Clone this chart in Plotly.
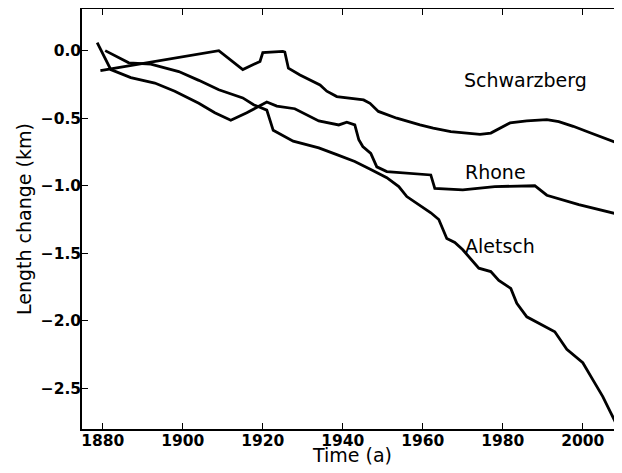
import plotly.graph_objects as go

# Schwarzberg glacier
schwarzberg_years = [1879.4, 1909, 1915, 1919.3, 1920, 1925, 1925.5, 1926.4, 1929.3, 1934.3, 1936,
                     1938.5, 1945.2, 1946.8, 1948.9, 1953.5, 1959.3, 1962.6, 1967, 1971, 1974.3,
                     1977, 1981.8, 1986, 1991, 1994, 1997.6, 2002, 2008.7]
schwarzberg_vals = [-0.148, 0.0, -0.14, -0.08, -0.015, -0.005, -0.01, -0.13, -0.18, -0.254, -0.30,
                    -0.34, -0.365, -0.39, -0.45, -0.50, -0.55, -0.574, -0.60, -0.61, -0.62,
                    -0.61, -0.535, -0.52, -0.51, -0.525, -0.56, -0.61, -0.685]

# Rhone glacier
rhone_years = [1878.6, 1882, 1887, 1893, 1898, 1904, 1908, 1912, 1916, 1921, 1923.5, 1928, 1934,
               1939, 1941, 1943, 1944, 1945, 1947, 1948.5, 1951, 1962, 1963, 1970, 1978, 1988,
               1991, 1999, 2008.7]
rhone_vals = [0.06, -0.14, -0.20, -0.24, -0.30, -0.39, -0.46, -0.515, -0.46, -0.38, -0.41, -0.43,
              -0.52, -0.55, -0.53, -0.55, -0.66, -0.71, -0.76, -0.86, -0.895, -0.92, -1.02,
              -1.03, -1.006, -1.0, -1.07, -1.14, -1.21]

# Aletsch glacier
aletsch_years = [1880.6, 1886.5, 1892, 1899, 1904, 1909, 1915, 1917.7, 1921, 1922.6, 1927.6, 1934,
                 1938.5, 1943, 1947, 1951, 1954, 1956, 1962, 1964, 1966, 1968, 1970, 1974, 1977,
                 1979, 1982, 1983.5, 1986, 1990, 1993, 1996, 2000, 2002.6, 2005, 2007, 2009]
aletsch_vals = [0.0, -0.09, -0.10, -0.155, -0.22, -0.29, -0.35, -0.40, -0.44, -0.59, -0.67, -0.72,
                -0.77, -0.82, -0.88, -0.94, -1.006, -1.08, -1.20, -1.25, -1.39, -1.42, -1.474,
                -1.61, -1.635, -1.70, -1.76, -1.87, -1.97, -2.03, -2.08, -2.21, -2.31, -2.44,
                -2.56, -2.68, -2.80]

label_names = ["Schwarzberg", "Rhone", "Aletsch"]
label_x = [1969.9, 1970.1, 1970.1]
label_y = [-0.22, -0.90, -1.447]

x_ticks = [1880, 1900, 1920, 1940, 1960, 1980, 2000]
y_ticks = [0.0, -0.5, -1.0, -1.5, -2.0, -2.5]
y_tick_text = ["0.0", "\u22120.5", "\u22121.0", "\u22121.5", "\u22122.0", "\u22122.5"]

x_title = "Time (a)"
y_title = "Length change (km)"

fig = go.Figure()
for name, xs, ys in [("Schwarzberg", schwarzberg_years, schwarzberg_vals),
                     ("Rhone", rhone_years, rhone_vals),
                     ("Aletsch", aletsch_years, aletsch_vals)]:
    fig.add_trace(go.Scatter(x=xs, y=ys, mode="lines", name=name,
                             line=dict(color="black", width=2.8), showlegend=False))

for n, lx, ly in zip(label_names, label_x, label_y):
    fig.add_annotation(x=lx, y=ly, text=n, showarrow=False, xanchor="left", yanchor="middle",
                       font=dict(family="DejaVu Sans", size=19, color="black"))

title_font = dict(family="DejaVu Sans", size=19, color="black")
# axis titles (placed as paper-anchored text for precise positioning)
fig.add_annotation(x=0.5, y=-0.063, xref="paper", yref="paper", text=x_title,
                   showarrow=False, xanchor="center", yanchor="middle", font=title_font)
fig.add_annotation(x=-0.1074, y=0.5, xref="paper", yref="paper", text=y_title, textangle=-90,
                   showarrow=False, xanchor="center", yanchor="middle", font=title_font)

tickfont = dict(family="DejaVu Sans", size=15.5, color="black", weight="bold")
fig.update_xaxes(range=[1874.8, 2009.8], tickvals=x_ticks, ticks="inside", ticklen=6,
                 tickwidth=1, tickcolor="black", showline=True, linecolor="black", linewidth=1.6,
                 mirror="ticks", showgrid=False, zeroline=False, tickfont=tickfont,
                 ticklabelstandoff=-3)
fig.update_yaxes(range=[-2.8, 0.308], tickvals=y_ticks, ticktext=y_tick_text, ticks="inside",
                 ticklen=6, tickwidth=1, tickcolor="black", showline=True, linecolor="black",
                 linewidth=1.6, mirror="ticks", showgrid=False, zeroline=False, tickfont=tickfont,
                 ticklabelstandoff=-4)
# the page body adds an 8 px offset, so the figure is sized/margined to compensate
fig.update_layout(width=614, height=465, margin=dict(l=74, r=0, t=1, b=44, autoexpand=False),
                  plot_bgcolor="white", paper_bgcolor="white")
fig.write_html("out.html")
